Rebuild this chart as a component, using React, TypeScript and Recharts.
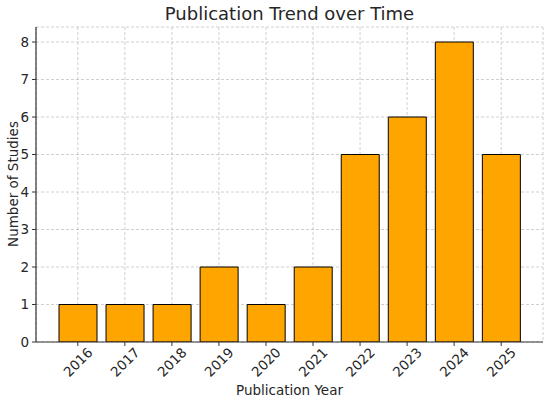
import { BarChart, Bar, XAxis, YAxis, CartesianGrid } from 'recharts';

const years = ['2016', '2017', '2018', '2019', '2020', '2021', '2022', '2023', '2024', '2025'];
const studies = [1, 1, 1, 2, 1, 2, 5, 6, 8, 5];
const yTicks = [0, 1, 2, 3, 4, 5, 6, 7, 8];

const data = years.map((year, i) => ({ year, count: studies[i] }));

const FONT = '"DejaVu Sans", sans-serif';
const TEXT = '#262626';

function YearTick(props: any) {
  const { x, y, payload } = props;
  const cx = x;
  const cy = y + 14;
  return (
    <text
      x={cx}
      y={cy}
      textAnchor="middle"
      dominantBaseline="central"
      transform={`rotate(-45 ${cx} ${cy})`}
      fontFamily={FONT}
      fontSize={13.5}
      fill={TEXT}
    >
      {payload.value}
    </text>
  );
}

export default function App() {
  return (
    <div style={{ position: 'absolute', left: 0, top: 0, width: 550, height: 401, background: '#fff' }}>
      <BarChart
        width={550}
        height={401}
        data={data}
        margin={{ top: 27, right: 7, bottom: 0, left: 0 }}
        barCategoryGap="10%"
      >
        <text x={289.5} y={20} textAnchor="middle" fontFamily={FONT} fontSize={18} fill={TEXT}>
          Publication Trend over Time
        </text>
        <text
          x={13}
          y={184}
          textAnchor="middle"
          dominantBaseline="central"
          transform="rotate(-90 13 184)"
          fontFamily={FONT}
          fontSize={13.5}
          fill={TEXT}
        >
          Number of Studies
        </text>
        <text x={289.5} y={395} textAnchor="middle" fontFamily={FONT} fontSize={13.5} fill={TEXT}>
          Publication Year
        </text>
        <XAxis
          dataKey="year"
          height={59}
          padding={{ left: 18.3, right: 18.3 }}
          tick={<YearTick />}
          tickLine={{ stroke: '#333', strokeWidth: 1 }}
          tickSize={4}
          axisLine={{ stroke: '#333', strokeWidth: 1.2 }}
          interval={0}
        />
        <YAxis
          width={36}
          domain={[0, 8.4]}
          ticks={yTicks}
          tickSize={4}
          tickMargin={3}
          tick={{ fontFamily: FONT, fontSize: 13.5, fill: TEXT }}
          tickLine={{ stroke: '#333', strokeWidth: 1 }}
          axisLine={{ stroke: '#333', strokeWidth: 1.2 }}
          allowDataOverflow
        />
        <Bar
          dataKey="count"
          fill="#FFA500"
          stroke="#000"
          strokeWidth={1}
          isAnimationActive={false}
        />
        <CartesianGrid stroke="#b0b0b0" strokeOpacity={0.6} strokeDasharray="3 2" />
      </BarChart>
    </div>
  );
}
